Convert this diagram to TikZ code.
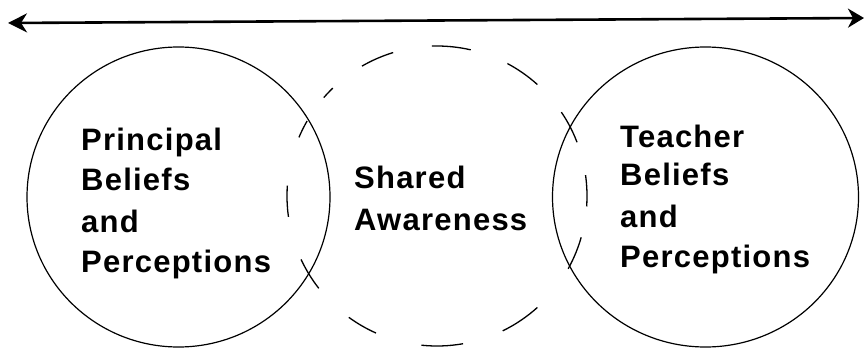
\documentclass[tikz,border=0pt]{standalone}
\usepackage{fontspec}
\setmainfont{Liberation Sans}
\newfontfamily\lblfont[LetterSpace=4]{Liberation Sans Bold}
\usetikzlibrary{arrows.meta}
\begin{document}
\begin{tikzpicture}[x=1pt,y=1pt,
  ring/.style={draw=black, line width=1.2pt},
  dashring/.style={draw=black, line width=1.3pt},
  lbl/.style={anchor=base west, inner sep=0pt, font=\lblfont\fontsize{31}{38}\selectfont}]
\useasboundingbox (0,0) rectangle (866,349);
% top double arrow
\coordinate (al) at (8,326);
\coordinate (ar) at (864,331);
\draw[line width=2.6pt, {Stealth[length=19pt,width=19pt,inset=6pt]}-{Stealth[length=16pt,width=19pt,inset=5pt]}] (al) -- (ar);
% solid circles
\coordinate (lc) at (178.5,152);
\coordinate (rc) at (705.5,152);
\draw[ring] (lc) ellipse [x radius=151.5, y radius=150];
\draw[ring] (rc) ellipse [x radius=153, y radius=150];
% dashed circle, drawn as separate dash arcs
\coordinate (dc) at (437,153);
\foreach \a/\b in {77/92,107/120,48/62,134/139,150/157,176/188,205/218,234/246,264/280,296/312,331/344,356/368,21/34}{
  \draw[dashring] ([shift={(\a:150)}]dc) arc[start angle=\a, end angle=\b, radius=150];
}
% labels
\node[lbl] (p1) at (81,199) {Principal};
\node[lbl] (p2) at (81,159) {Beliefs};
\node[lbl] (p3) at (81,117) {and};
\node[lbl] (p4) at (81,77) {Perceptions};
\node[lbl] (s1) at (354,161) {Shared};
\node[lbl] (s2) at (354,119) {Awareness};
\node[lbl] (t1) at (620,202) {Teacher};
\node[lbl] (t2) at (620,164) {Beliefs};
\node[lbl] (t3) at (620,122) {and};
\node[lbl] (t4) at (620,82) {Perceptions};
\end{tikzpicture}
\end{document}
